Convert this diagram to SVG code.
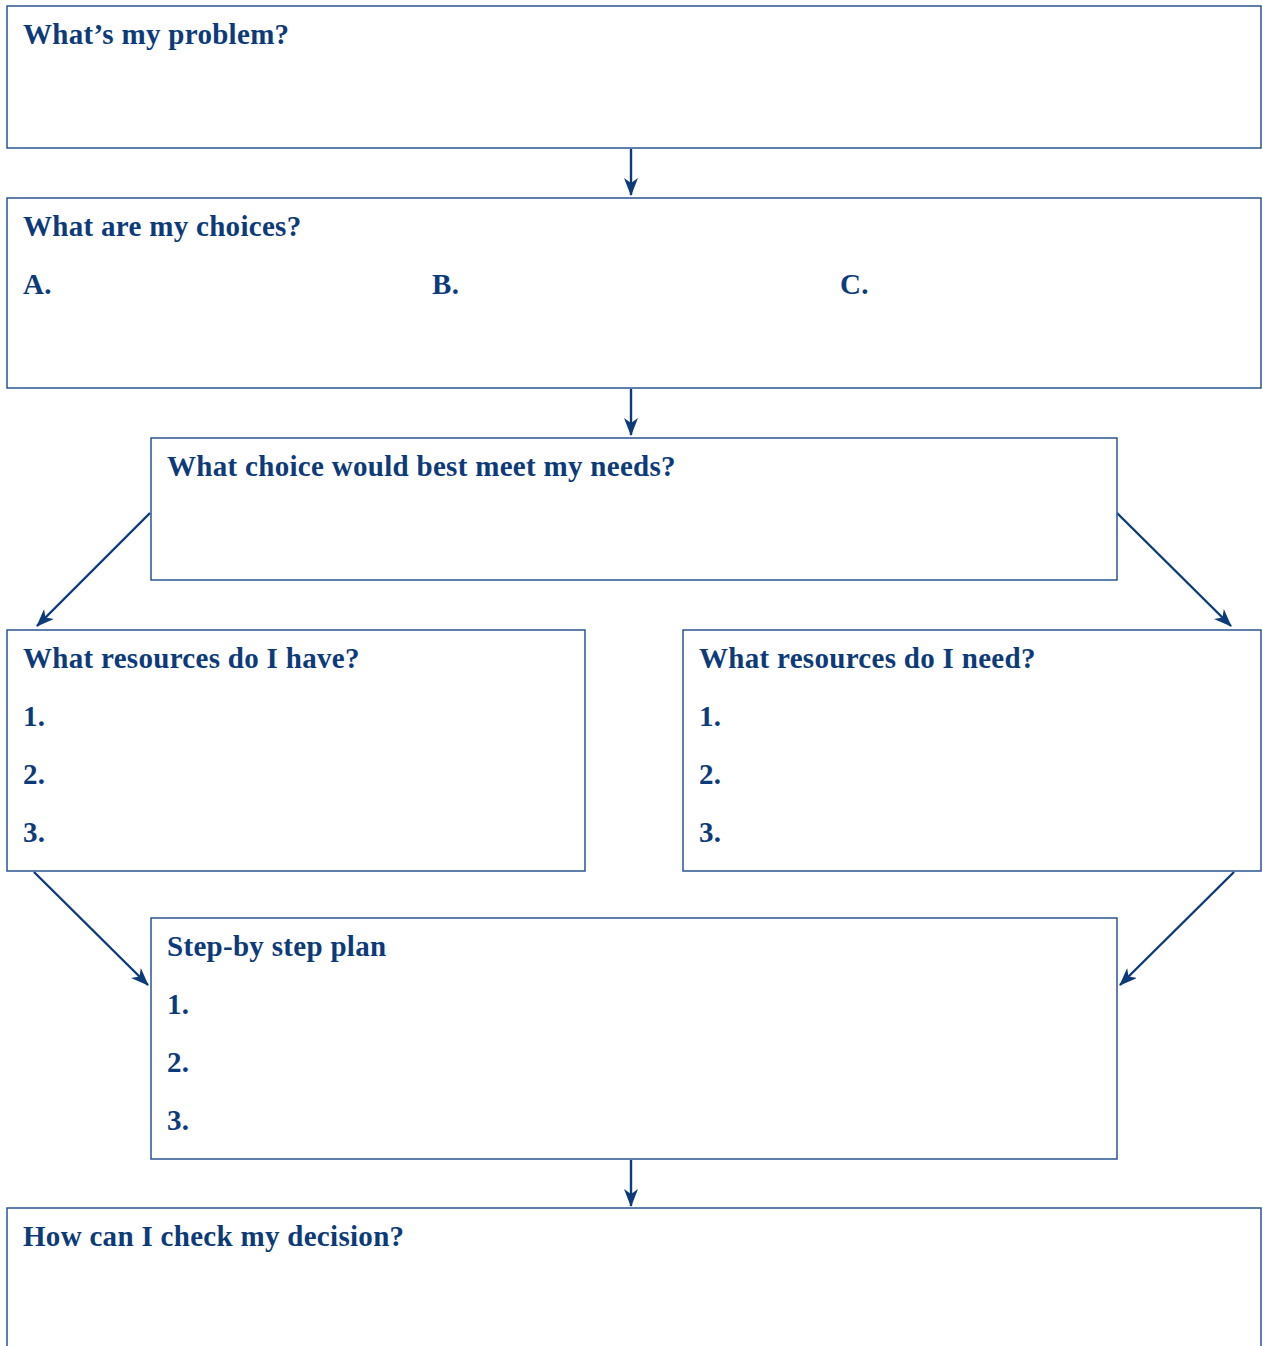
<svg xmlns="http://www.w3.org/2000/svg" width="1263" height="1346" viewBox="0 0 1263 1346">
<style>
.box{fill:#fff;stroke:#2a5592;stroke-width:1.5}
.t{font-family:"Liberation Serif",serif;font-weight:bold;font-size:29px;letter-spacing:0.3px;fill:#0d3b7a}
.c{stroke:#0d3b7a;stroke-width:2.4;fill:none;marker-end:url(#ah)}
</style>
<defs>
<marker id="ah" markerWidth="18" markerHeight="14" refX="17" refY="7" orient="auto" markerUnits="userSpaceOnUse" viewBox="0 0 18 14">
<path d="M0,0 L18,7 L0,14 L5,7 Z" fill="#0d3b7a"/>
</marker>
</defs>
<rect width="1263" height="1346" fill="#fff"/>
<g id="connectors">
<line class="c" x1="631" y1="149" x2="631" y2="195"/>
<line class="c" x1="631" y1="389" x2="631" y2="435"/>
<line class="c" x1="150" y1="513" x2="37" y2="626"/>
<line class="c" x1="1117" y1="513" x2="1231" y2="626"/>
<line class="c" x1="34" y1="872" x2="148" y2="985"/>
<line class="c" x1="1234" y1="872" x2="1120" y2="985"/>
<line class="c" x1="631" y1="1160" x2="631" y2="1206"/>
</g>
<g id="problem">
<rect class="box" x="7" y="6" width="1254" height="142"/>
<text class="t" x="23" y="44">What’s my problem?</text>
</g>
<g id="choices">
<rect class="box" x="7" y="198" width="1254" height="190"/>
<text class="t" x="23" y="236">What are my choices?</text>
<text class="t" x="23" y="294">A.</text>
<text class="t" x="432" y="294">B.</text>
<text class="t" x="840" y="294">C.</text>
</g>
<g id="best">
<rect class="box" x="151" y="438" width="966" height="142"/>
<text class="t" x="167" y="476">What choice would best meet my needs?</text>
</g>
<g id="have">
<rect class="box" x="7" y="630" width="578" height="241"/>
<text class="t" x="23" y="668">What resources do I have?</text>
<text class="t" x="23" y="726">1.</text>
<text class="t" x="23" y="784">2.</text>
<text class="t" x="23" y="842">3.</text>
</g>
<g id="need">
<rect class="box" x="683" y="630" width="578" height="241"/>
<text class="t" x="699" y="668">What resources do I need?</text>
<text class="t" x="699" y="726">1.</text>
<text class="t" x="699" y="784">2.</text>
<text class="t" x="699" y="842">3.</text>
</g>
<g id="plan">
<rect class="box" x="151" y="918" width="966" height="241"/>
<text class="t" x="167" y="956">Step-by step plan</text>
<text class="t" x="167" y="1014">1.</text>
<text class="t" x="167" y="1072">2.</text>
<text class="t" x="167" y="1130">3.</text>
</g>
<g id="check">
<rect class="box" x="7" y="1208" width="1254" height="160"/>
<text class="t" x="23" y="1246">How can I check my decision?</text>
</g>
</svg>
